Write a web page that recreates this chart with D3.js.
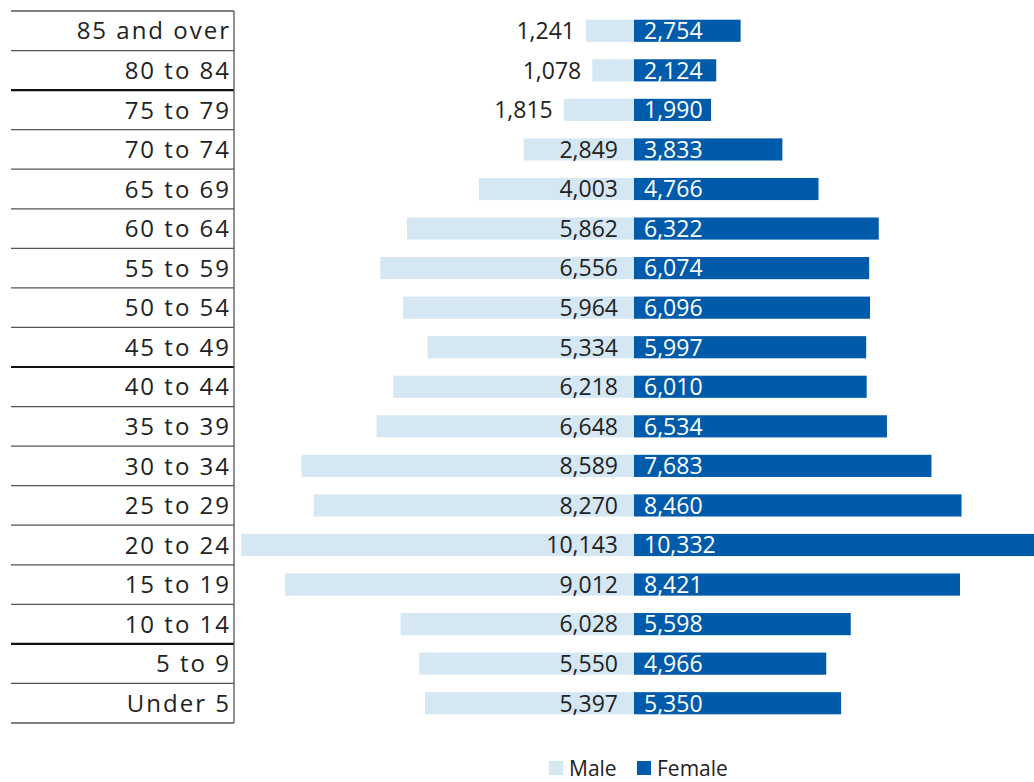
<!DOCTYPE html>
<html>
<head>
<meta charset="utf-8">
<script src="https://cdn.jsdelivr.net/npm/d3@7"></script>
<style>
  html, body { margin: 0; padding: 0; background: #fff; }
  svg text { font-family: "Open Sans", "Noto Sans", sans-serif; }
</style>
</head>
<body>
<div id="chart"></div>
<script>
// age groups, top to bottom
var ageGroups = ['85 and over', '80 to 84', '75 to 79', '70 to 74', '65 to 69', '60 to 64',
  '55 to 59', '50 to 54', '45 to 49', '40 to 44', '35 to 39', '30 to 34', '25 to 29',
  '20 to 24', '15 to 19', '10 to 14', '5 to 9', 'Under 5'];
var male = [1241, 1078, 1815, 2849, 4003, 5862, 6556, 5964, 5334, 6218, 6648, 8589, 8270,
  10143, 9012, 6028, 5550, 5397];
var female = [2754, 2124, 1990, 3833, 4766, 6322, 6074, 6096, 5997, 6010, 6534, 7683, 8460,
  10332, 8421, 5598, 4966, 5350];
// rows that get a heavy rule below them
var heavyAfter = ['80 to 84', '45 to 49', '10 to 14'];
var seriesNames = ['Male', 'Female'];

var w = 1034, h = 782,
  tableLeft = 11, tableRight = 234,
  topY = 11, bottomY = 723,
  maleColor = '#d5e7f3', femaleColor = '#005bab';

var svg = d3.select('#chart').append('svg')
  .attr('width', w)
  .attr('height', h);

var y = d3.scaleBand()
  .domain(ageGroups)
  .range([topY, bottomY])
  .paddingInner(0.44)
  .paddingOuter(0.22);

var rowH = (bottomY - topY) / ageGroups.length;

var maxVal = d3.max(male.concat(female));
var x = d3.scaleLinear()
  .domain([-maxVal, maxVal])
  .range([tableRight, w]);

// table rules on the left
var rules = svg.append('g');
rules.append('line')
  .attr('x1', tableLeft).attr('x2', tableRight)
  .attr('y1', topY).attr('y2', topY)
  .style('stroke', '#555').style('stroke-width', 1.3);

rules.selectAll('.row-rule')
  .data(ageGroups)
  .enter().append('line')
  .attr('class', 'row-rule')
  .attr('x1', tableLeft).attr('x2', tableRight)
  .attr('y1', function (d, i) { return topY + (i + 1) * rowH; })
  .attr('y2', function (d, i) { return topY + (i + 1) * rowH; })
  .style('stroke', function (d) { return heavyAfter.indexOf(d) >= 0 ? '#111' : '#555'; })
  .style('stroke-width', function (d) { return heavyAfter.indexOf(d) >= 0 ? 2.2 : 1.3; });

rules.append('line')
  .attr('x1', tableRight).attr('x2', tableRight)
  .attr('y1', topY).attr('y2', bottomY)
  .style('stroke', '#555').style('stroke-width', 1.3);

// category labels
svg.selectAll('.cat')
  .data(ageGroups)
  .enter().append('text')
  .attr('class', 'cat')
  .attr('x', tableRight - 3)
  .attr('y', function (d) { return y(d) + y.bandwidth() / 2; })
  .attr('dy', '0.36em')
  .attr('text-anchor', 'end')
  .style('font-size', '24px')
  .style('letter-spacing', '2px')
  .style('fill', '#222')
  .text(String);

var fmt = d3.format(',');

// male bars
svg.selectAll('.male')
  .data(male)
  .enter().append('rect')
  .attr('class', 'male')
  .attr('x', function (d) { return x(-d); })
  .attr('y', function (d, i) { return y(ageGroups[i]); })
  .attr('width', function (d) { return x(0) - x(-d); })
  .attr('height', y.bandwidth())
  .style('fill', maleColor);

// female bars
svg.selectAll('.female')
  .data(female)
  .enter().append('rect')
  .attr('class', 'female')
  .attr('x', x(0))
  .attr('y', function (d, i) { return y(ageGroups[i]); })
  .attr('width', function (d) { return x(d) - x(0); })
  .attr('height', y.bandwidth())
  .style('fill', femaleColor);

// male labels: inside near the centre, or outside the bar end when too short
svg.selectAll('.male-label')
  .data(male)
  .enter().append('text')
  .attr('class', 'male-label')
  .attr('x', function (d) {
    return (x(0) - x(-d)) < 90 ? x(-d) - 11 : x(0) - 16;
  })
  .attr('y', function (d, i) { return y(ageGroups[i]) + y.bandwidth() / 2; })
  .attr('dy', '0.36em')
  .attr('text-anchor', 'end')
  .style('font-size', '23px')
  .style('fill', '#222')
  .text(fmt);

svg.selectAll('.female-label')
  .data(female)
  .enter().append('text')
  .attr('class', 'female-label')
  .attr('x', x(0) + 10)
  .attr('y', function (d, i) { return y(ageGroups[i]) + y.bandwidth() / 2; })
  .attr('dy', '0.36em')
  .attr('text-anchor', 'start')
  .style('font-size', '23px')
  .style('fill', '#fff')
  .text(fmt);

// legend
var legend = svg.append('g')
  .attr('transform', 'translate(549, 761)');
var items = legend.selectAll('.item')
  .data(seriesNames)
  .enter().append('g')
  .attr('class', 'item')
  .attr('transform', function (d, i) { return 'translate(' + (i * 88) + ',0)'; });
items.append('rect')
  .attr('width', 14).attr('height', 14)
  .style('fill', function (d, i) { return i === 0 ? maleColor : femaleColor; });
items.append('text')
  .attr('x', 20).attr('y', 7)
  .attr('dy', '0.36em')
  .style('font-size', '21px')
  .style('fill', '#222')
  .text(String);
</script>
</body>
</html>
